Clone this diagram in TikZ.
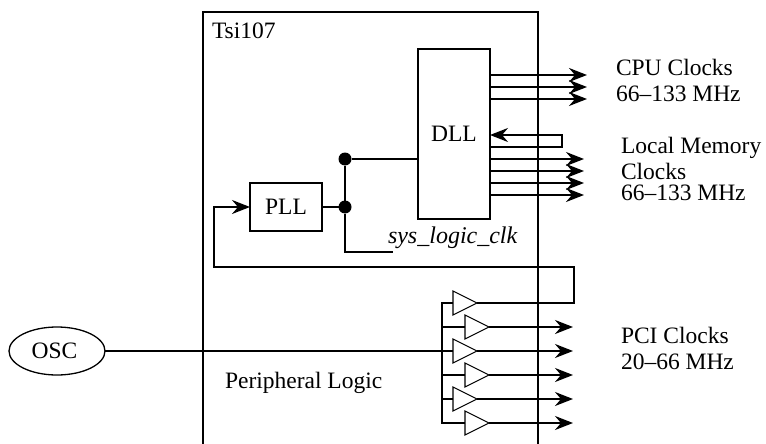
\documentclass[tikz,border=0pt]{standalone}
\usepackage{fontspec}
\setmainfont{Liberation Serif}
\usetikzlibrary{arrows.meta,shapes.geometric}
\tikzset{
  wire/.style={line width=2pt,draw=black,line join=miter},
  arrowwire/.style={wire,-{Stealth[length=18pt,width=14pt,inset=6pt]}},
  blockbox/.style={draw=black,line width=2pt,fill=white,rectangle,inner sep=0pt,outer sep=0pt,font=\fontsize{23.5}{26}\selectfont},
  lbl/.style={inner sep=0pt,outer sep=0pt,anchor=base west,font=\fontsize{23.5}{26}\selectfont},
  dotnode/.style={circle,fill=black,minimum size=13pt,inner sep=0pt,outer sep=0pt},
  buffer/.style={isosceles triangle,isosceles triangle apex angle=90,isosceles triangle stretches,shape border rotate=0,
    minimum width=24pt,minimum height=24pt,inner sep=0pt,outer sep=0pt,draw=black,line width=1.1pt,fill=white,anchor=apex},
}
\begin{document}
\begin{tikzpicture}[x=1pt,y=-1pt]
\useasboundingbox (0,0) rectangle (766,444);
% chip outline, open at the bottom
\coordinate (chipBL) at (203,444);
\coordinate (chipTL) at (203,12);
\coordinate (chipTR) at (538,12);
\coordinate (chipBR) at (538,444);
\draw[wire] (chipBL) -- (chipTL) -- (chipTR) -- (chipBR);

\node[blockbox,minimum width=72pt,minimum height=170pt] (dll) at (454,134) {DLL};
\node[blockbox,minimum width=72pt,minimum height=48pt] (pll) at (286,207) {PLL};
\node[draw=black,line width=1.3pt,ellipse,fill=white,minimum width=96pt,minimum height=48pt,inner sep=0pt,outer sep=0pt,font=\fontsize{23.5}{26}\selectfont] (osc) at (57,351) {\hspace*{-5pt}OSC};

\node[dotnode] (j1) at (345,159) {};
\node[dotnode] (j2) at (345,207) {};

% free ends and buffer inputs
\coordinate (c1) at (587,75);
\coordinate (c2) at (587,87);
\coordinate (c3) at (587,99);
\coordinate (m1) at (584,159);
\coordinate (m2) at (584,171);
\coordinate (m3) at (584,183);
\coordinate (m4) at (584,195);
\coordinate (p2) at (573,327);
\coordinate (p3) at (573,351);
\coordinate (p4) at (573,375);
\coordinate (p5) at (573,399);
\coordinate (p6) at (573,423);
\coordinate (sysEnd) at (393,252);
\coordinate (busTop) at (442,303);
\coordinate (busBot) at (442,423);
\coordinate (in1) at (453,303);
\coordinate (in2) at (465,327);
\coordinate (in3) at (454,351);
\coordinate (in4) at (465,375);
\coordinate (in5) at (453,399);
\coordinate (in6) at (465,423);

% oscillator and bus
\draw[wire] (osc.east) -- (in3);
\draw[wire] (in1) -- (busTop) -- (busBot) -- (in6);
\draw[wire] (busTop |- in2) -- (in2);
\draw[wire] (busTop |- in4) -- (in4);
\draw[wire] (busTop |- in5) -- (in5);

% buffers
\node[buffer] (b1) at (477,303) {};
\node[buffer] (b2) at (489,327) {};
\node[buffer] (b3) at (477,351) {};
\node[buffer] (b4) at (489,375) {};
\node[buffer] (b5) at (477,399) {};
\node[buffer] (b6) at (489,423) {};

\draw[arrowwire] (dll.east |- c1) -- (c1);
\draw[arrowwire] (dll.east |- c2) -- (c2);
\draw[arrowwire] (dll.east |- c3) -- (c3);
\draw[arrowwire] (dll.east |- m1) -- (m1);
\draw[arrowwire] (dll.east |- m2) -- (m2);
\draw[arrowwire] (dll.east |- m3) -- (m3);
\draw[arrowwire] (dll.east |- m4) -- (m4);
% DLL feedback
\coordinate (fbA) at (562,147);
\coordinate (fbB) at (562,135);
\draw[arrowwire] (dll.east |- fbA) -- (fbA) -- (fbB) -- (dll.east |- fbB);

% PLL, DLL and sys_logic_clk
\draw[wire] (pll.east) -- (j2);
\draw[wire] (j1) -- (dll.west |- j1);
\draw[wire] (j1) -- (j2) -- (j2 |- sysEnd) -- (sysEnd);

% loop from buffer 1 back to PLL
\coordinate (loopA) at (574,303);
\coordinate (loopB) at (574,267);
\coordinate (loopC) at (214,267);
\coordinate (loopD) at (214,207);
\draw[arrowwire] (b1.apex) -- (loopA) -- (loopB) -- (loopC) -- (loopD) -- (pll.west);

\draw[arrowwire] (b2.apex) -- (p2);
\draw[arrowwire] (b3.apex) -- (p3);
\draw[arrowwire] (b4.apex) -- (p4);
\draw[arrowwire] (b5.apex) -- (p5);
\draw[arrowwire] (b6.apex) -- (p6);

% labels
\node[lbl] (tTsi) at (212,39) {Tsi107};
\node[lbl,font=\fontsize{24}{26}\selectfont] (tSys) at (388,243) {\itshape sys\_logic\_clk};
\node[lbl] (tCpu) at (616,76) {CPU Clocks};
\node[lbl] (tCpuF) at (616,102) {66–133 MHz};
\node[lbl] (tMem) at (621,153) {Local Memory};
\node[lbl] (tMem2) at (621,179) {Clocks};
\node[lbl] (tMemF) at (621,200) {66–133 MHz};
\node[lbl] (tPci) at (621,343) {PCI Clocks};
\node[lbl] (tPciF) at (621,369) {20–66 MHz};
\node[lbl] (tPer) at (225,388) {Peripheral Logic};
\end{tikzpicture}
\end{document}
